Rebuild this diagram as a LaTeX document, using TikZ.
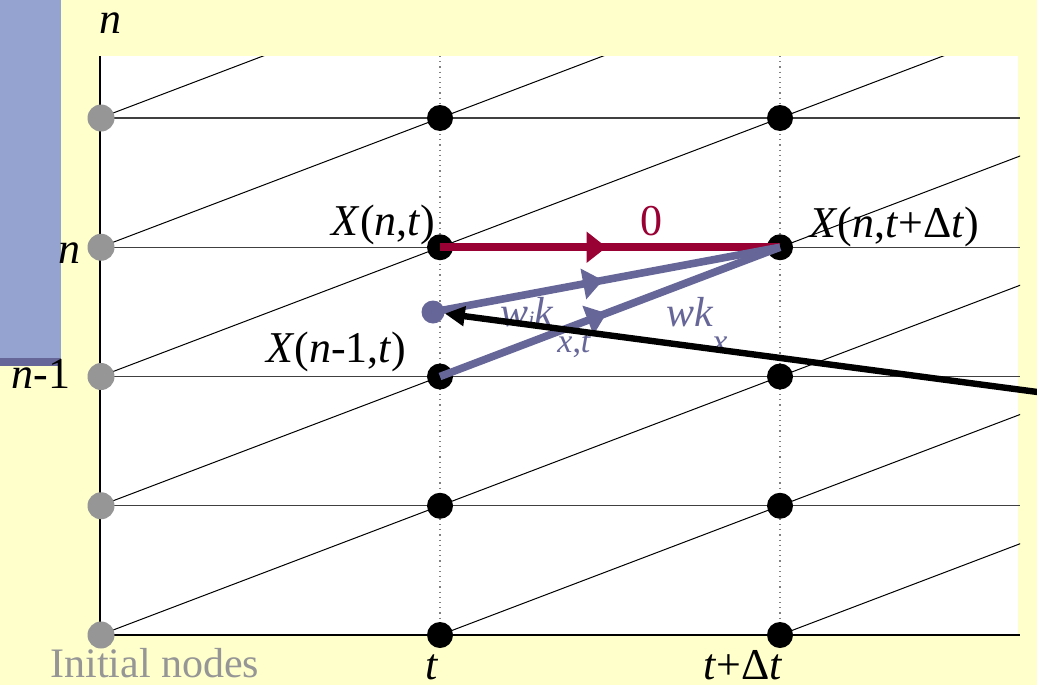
\documentclass[tikz,border=0pt]{standalone}
\usepackage{fontspec}
\setmainfont{Liberation Serif}
\usetikzlibrary{arrows.meta,decorations.markings}
\definecolor{bgyellow}{RGB}{255,255,204}
\definecolor{barblue}{RGB}{148,163,207}
\definecolor{bardark}{RGB}{102,102,153}
\definecolor{edgeblue}{RGB}{102,102,153}
\definecolor{edgered}{RGB}{153,0,51}
\definecolor{initgray}{RGB}{150,150,150}
\newcommand{\mv}[1]{\textit{#1}}

\begin{document}
\begin{tikzpicture}[x=0.5pt,y=-0.5pt,
    lbl/.style={inner sep=0pt,font=\fontsize{22}{26}\selectfont},
    wlbl/.style={inner sep=0pt,text=edgeblue,font=\fontsize{21}{24}\selectfont},
    sublbl/.style={inner sep=0pt,text=edgeblue,font=\fontsize{17}{20}\selectfont},
    initdot/.style={circle,fill=initgray,inner sep=0pt,minimum size=13.5pt},
    griddot/.style={circle,fill=black,inner sep=0pt,minimum size=13pt},
    middot/.style={circle,fill=edgeblue,inner sep=0pt,minimum size=11.5pt},
    rowline/.style={black!75,line width=0.6pt},
    timeline/.style={gray,dotted,line width=0.6pt},
    diag/.style={black,line width=0.5pt},
    midtip/.style={postaction={decorate},decoration={markings,
        mark=at position #1 with {\arrow{Triangle[length=10pt,width=15pt]}}}},
    zeroedge/.style={edgered,line width=3.8pt,midtip=0.49},
    wkedge/.style={edgeblue,line width=3.8pt,midtip=0.49},
    backedge/.style={-{Triangle[length=10pt,width=9.5pt]},line width=3.2pt}
]
    \fill[bgyellow] (0,0) rectangle (1037,685);
    \useasboundingbox (0,0) rectangle (1037,685);
    \fill[barblue] (0,0) rectangle (61,358);
    \fill[bardark] (0,358) rectangle (61,366);
    \fill[white] (100,56) rectangle (1018,635);

    \begin{scope}
        \clip (100,56) rectangle (1020,635);
        \foreach \r in {0,...,4}
            \draw[diag] (100,635-129.25*\r) -- ++(1020,-387.75);
        \foreach \c in {440,780}
            \draw[diag] (\c,635) -- ++(1020,-387.75);
    \end{scope}
    \foreach \r in {1,...,4}
        \draw[rowline] (100,635-129.25*\r) -- (1020,635-129.25*\r);
    \foreach \c in {440,780}
        \draw[timeline] (\c,56) -- (\c,635);
    \draw[black,line width=0.7pt] (100,56) -- (100,635) -- (1020,635);

    \foreach \r in {0,...,4} {
        \node[initdot] (g\r) at (101,635-129.25*\r) {};
        \node[griddot] (a\r) at (440,635-129.25*\r) {};
        \node[griddot] (b\r) at (780,635-129.25*\r) {};
    }
    \node[middot] (mid) at (433,312) {};

    \node[lbl,anchor=base] (ntop) at (110,33) {\mv{n}};
    \node[lbl,anchor=base east] (nlab) at (81,263) {\mv{n}};
    \node[lbl,anchor=base east] (nmlab) at (71,388) {\mv{n}-1};
    \node[lbl,anchor=base east] (xnt) at (436,235) {\mv{X}(\mv{n},\mv{t})};
    \node[lbl,anchor=base west] (xntd) at (809,237) {\mv{X}(\mv{n},\mv{t}+Δ\mv{t})};
    \node[lbl,anchor=base east] (xnmt) at (407,362) {\mv{X}(\mv{n}-1,\mv{t})};
    \node[lbl,anchor=base,text=edgered] (zero) at (651,235) {0};
    \node[wlbl,anchor=base west] (wk1) at (500,326) {\mv{w}{\fontsize{11}{11}\selectfont\mv{i}}\mv{k}};
    \node[sublbl,anchor=base west] (sub1) at (557,352) {\mv{x},\mv{t}};
    \node[wlbl,anchor=base west] (wk2) at (666,326) {\mv{wk}};
    \node[sublbl,anchor=base west] (sub2) at (712,352) {\mv{x}};
    \node[lbl,anchor=base,text depth=0pt] (tlab) at (432,679) {\mv{t}};
    \node[lbl,anchor=base,text depth=0pt] (tdlab) at (743,679) {\mv{t}+Δ\mv{t}};
    \node[lbl,anchor=base west,text=initgray,font=\fontsize{21}{24}\selectfont] (init) at (50,677) {Initial nodes};

    \draw[zeroedge] (a3.center) -- (b3.center);
    \draw[wkedge] (mid.center) -- (b3.center);
    \draw[wkedge] (a2.center) -- (b3.center);
    \coordinate (src) at (1045,393);
    \draw[backedge] (src) -- (mid);
\end{tikzpicture}
\end{document}
